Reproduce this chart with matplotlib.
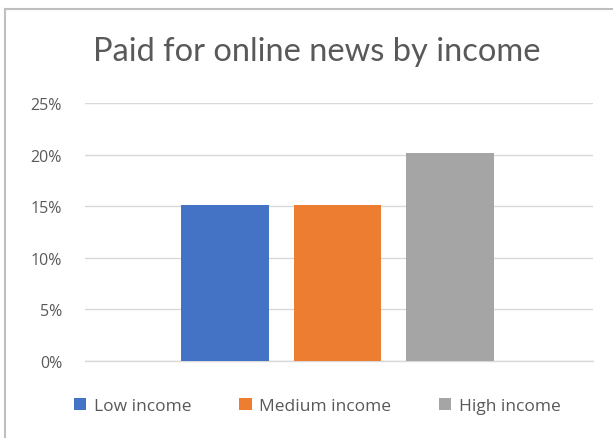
import matplotlib.pyplot as plt
from matplotlib.lines import Line2D
from matplotlib.patches import Patch
from matplotlib.ticker import PercentFormatter

# share of people who paid for online news, by income group
groups = ["Low income", "Medium income", "High income"]
paid = [0.151, 0.151, 0.202]
colors = ["#4472C4", "#ED7D31", "#A5A5A5"]
yticks = [0, 0.05, 0.10, 0.15, 0.20, 0.25]

fig = plt.figure(figsize=(6.13, 4.39), dpi=100)
ax = fig.add_axes([0.1387, 0.1754, 0.8287, 0.5877])

width = 0.173
step = 0.2215
for i, (g, v, c) in enumerate(zip(groups, paid, colors)):
    ax.bar((i - 1) * step - 0.003, v, width=width, color=c, label=g, zorder=3)

ax.set_xlim(-0.5, 0.5)
ax.set_ylim(0, 0.25)
ax.set_yticks(yticks)
ax.yaxis.set_major_formatter(PercentFormatter(1.0, decimals=0))
ax.set_xticks([])
ax.grid(axis="y", color="#d9d9d9", linewidth=1.0, zorder=0)
ax.axhline(0, color="#d9d9d9", linewidth=1.0, zorder=1, clip_on=False)
for s in ax.spines.values():
    s.set_visible(False)
ax.tick_params(axis="y", length=0, pad=16.5, labelsize=11.5, labelcolor="#595959")
for lab in ax.get_yticklabels():
    lab.set_fontfamily("Open Sans")

fig.text(0.517, 0.8815, "Paid for online news by income", ha="center", va="center",
         fontsize=23.5, color="#595959", family="Lato")

handles = [Patch(facecolor=c, edgecolor="none") for c in colors]
fig.legend(handles, groups, loc="center", bbox_to_anchor=(0.518, 0.073), ncol=3,
           frameon=False, handlelength=0.7, handleheight=0.7, handletextpad=0.45,
           columnspacing=2.75, prop={"family": "Open Sans", "size": 12.5},
           labelcolor="#595959")

# chart frame: top and left edges
fig.add_artist(Line2D([5 / 613, 1], [1 - 10 / 439] * 2, color="#bfbfbf", linewidth=1.5))
fig.add_artist(Line2D([5 / 613] * 2, [0, 1 - 10 / 439], color="#bfbfbf", linewidth=1.5))

fig.savefig("out.png", dpi=100)
